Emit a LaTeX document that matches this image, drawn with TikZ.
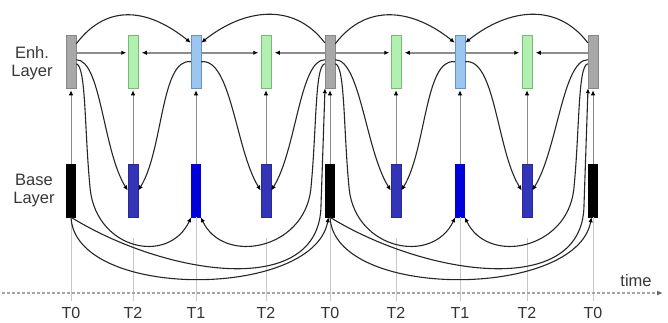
\documentclass[tikz,border=0pt]{standalone}
\usepackage{fontspec}
\setmainfont{Liberation Sans}
\usetikzlibrary{arrows.meta}
\definecolor{enhgray}{RGB}{168,168,168}
\definecolor{enhgrayd}{RGB}{135,135,135}
\definecolor{enhgreen}{RGB}{178,240,178}
\definecolor{enhgreend}{RGB}{115,190,115}
\definecolor{enhblue}{RGB}{155,198,240}
\definecolor{enhblued}{RGB}{105,145,200}
\definecolor{basedb}{RGB}{52,52,185}
\definecolor{basedbd}{RGB}{40,40,150}
\definecolor{basebb}{RGB}{0,0,218}
\definecolor{txt}{RGB}{55,55,55}
\definecolor{linegray}{RGB}{140,140,140}
\definecolor{gridgray}{RGB}{200,200,200}
\definecolor{axisgray}{RGB}{165,165,165}
\begin{document}
\begin{tikzpicture}[x=1pt,y=-1pt,
  picbox/.style={draw, minimum width=10pt, minimum height=53pt, inner sep=0pt, line width=0.5pt},
  gbox/.style={picbox, fill=enhgray, draw=enhgrayd},
  lgbox/.style={picbox, fill=enhgreen, draw=enhgreend},
  lbbox/.style={picbox, fill=enhblue, draw=enhblued},
  kbox/.style={picbox, minimum width=9pt, fill=black, draw=black},
  dbbox/.style={picbox, fill=basedb, draw=basedbd},
  bbbox/.style={picbox, minimum width=9pt, fill=basebb, draw=basebb},
  arrowend/.style={-{Latex[length=5pt,width=4.5pt,color=black]}},
  crv/.style={arrowend, line width=1.1pt, draw=black!85},
  hlink/.style={arrowend, line width=1.8pt, draw=linegray, shorten >=1.5pt},
  vlink/.style={arrowend, line width=1pt, draw=linegray, shorten >=2pt},
  gridline/.style={draw=gridgray, line width=0.6pt},
  axisline/.style={draw=axisgray, line width=1.3pt, dash pattern=on 3pt off 2pt,
    -{Latex[length=6pt,width=5pt,color=black!60]}},
  lbl/.style={text=txt, font=\fontsize{16.5}{18}\selectfont, align=center},
  tlbl/.style={text=black!80, font=\fontsize{16}{18}\selectfont},
]
\useasboundingbox (0,0) rectangle (668,322);

% enhancement layer
\node[gbox]  (e0) at (71,61.5) {};
\node[lgbox] (e1) at (133,61.5) {};
\node[lbbox] (e2) at (196,61.5) {};
\node[lgbox] (e3) at (266,61.5) {};
\node[gbox]  (e4) at (330,61.5) {};
\node[lgbox] (e5) at (396,61.5) {};
\node[lbbox] (e6) at (460,61.5) {};
\node[lgbox] (e7) at (527,61.5) {};
\node[gbox]  (e8) at (593,61.5) {};
% base layer
\node[kbox]  (b0) at (71,190.5) {};
\node[dbbox] (b1) at (133,190.5) {};
\node[bbbox] (b2) at (196,190.5) {};
\node[dbbox] (b3) at (266,190.5) {};
\node[kbox]  (b4) at (330,190.5) {};
\node[dbbox] (b5) at (396,190.5) {};
\node[bbbox] (b6) at (460,190.5) {};
\node[dbbox] (b7) at (527,190.5) {};
\node[kbox]  (b8) at (593,190.5) {};

% labels
\node[lbl] (enhlbl) at (32,63) {Enh.\\Layer};
\node[lbl] (baselbl) at (34,191) {Base\\Layer};
\node[lbl] (timelbl) at (636,281) {time};
\foreach \i/\x/\t in {0/71/T0,1/133/T2,2/196/T1,3/266/T2,4/330/T0,5/396/T2,6/460/T1,7/527/T2,8/593/T0}{
  \node[tlbl] (t\i) at (\x,313) {\t};
  \coordinate (g\i) at (\x,301);
}

% grid lines
\foreach \i in {0,2,4,6,8}{ \draw[gridline] (b\i.south) -- (g\i); }
\foreach \i in {1,3,5,7}{ \draw[gridline] ([yshift=-21pt]b\i.south) -- (g\i); }

% time axis
\coordinate (ax0) at (2,293);
\coordinate (ax1) at (663,293);
\draw[axisline] (ax0) -- (ax1);

% base -> enhancement
\foreach \i in {0,...,8}{ \draw[vlink] (b\i.north) -- (e\i.south); }

\foreach \ia/\ip/\im/\iq/\ib in {0/1/2/3/4, 4/5/6/7/8}{
  % top arcs
  \draw[crv] ([yshift=-9pt]e\ia.north east) .. controls +(32,-42) and +(-41,-33) .. ([yshift=-8pt]e\im.north west);
  \draw[crv] ([yshift=-8pt]e\ib.north west) .. controls +(-32,-42) and +(41,-33) .. ([yshift=-8pt]e\im.north east);
  % horizontal
  \draw[hlink] ([yshift=-18pt]e\ia.north east) -- ([yshift=-18pt]e\ip.north west);
  \draw[hlink] ([yshift=-18pt]e\im.north west) -- ([yshift=-18pt,xshift=2pt]e\ip.north east);
  \draw[hlink] ([yshift=-18pt]e\im.north east) -- ([yshift=-18pt,xshift=-1pt]e\iq.north west);
  \draw[hlink] ([yshift=-18pt]e\ib.north west) -- ([yshift=-18pt,xshift=2pt]e\iq.north east);
  % S curves to base T2
  \draw[crv] ([yshift=-25pt]e\ia.north east) .. controls +(25,0) and +(-25,-40) .. (b\ip.west);
  \draw[crv] ([yshift=-27pt]e\im.north west) .. controls +(-30,-4) and +(25,-40) .. (b\ip.east);
  \draw[crv] ([yshift=-27pt]e\im.north east) .. controls +(30,-4) and +(-25,-40) .. (b\iq.west);
  \draw[crv] ([yshift=-25pt]e\ib.north west) .. controls +(-25,0) and +(25,-40) .. (b\iq.east);
  % deep curves to base T1
  \draw[crv] ([yshift=-29pt]e\ia.north east) .. controls +(10,2) and +(-6,-60) .. ++(14,126)
     .. controls +(7,60) and +(-23,48) .. (b\im.south west);
  \draw[crv] ([yshift=-29pt]e\ib.north west) .. controls +(-10,2) and +(6,-60) .. ++(-14,126)
     .. controls +(-7,60) and +(23,48) .. (b\im.south east);
  % base key picture predictions
  \draw[crv] (b\ia.south) .. controls +(4,83) and +(-15,82) .. ([xshift=-1.5pt]b\ib.south);
  \draw[crv] (b\ia.south) .. controls +(94,58) and +(-1,95) .. ([xshift=-9pt,yshift=12pt]b\ib.south)
     -- ([xshift=-5pt]e\ib.south);
}
\end{tikzpicture}
\end{document}
